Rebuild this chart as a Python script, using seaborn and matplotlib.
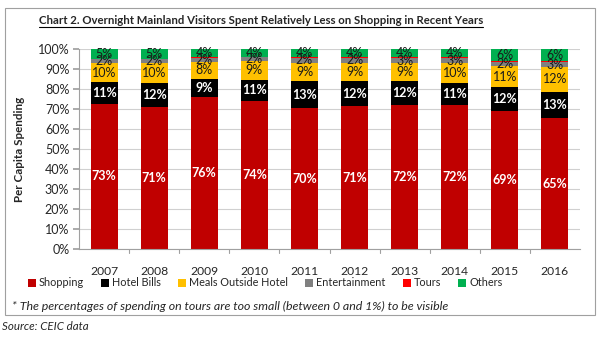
import numpy as np
import pandas as pd
import seaborn as sns
import matplotlib.pyplot as plt
from matplotlib.patches import Rectangle, Patch
from matplotlib.lines import Line2D

years = ["2007", "2008", "2009", "2010", "2011", "2012", "2013", "2014", "2015", "2016"]
shopping = [72.6, 70.8, 76.2, 73.8, 70.4, 71.4, 72.0, 71.8, 69.0, 65.4]
hotel_bills = [10.8, 12.0, 8.9, 10.9, 13.4, 12.4, 11.8, 11.2, 11.8, 13.3]
meals = [9.6, 10.0, 8.3, 9.2, 9.4, 9.4, 9.0, 9.8, 10.8, 12.2]
entertainment = [1.8, 2.0, 2.1, 1.9, 2.4, 2.3, 2.8, 2.8, 2.1, 2.6]
tours = [0.4, 0.4, 0.6, 0.4, 0.6, 0.5, 0.4, 0.4, 0.5, 0.5]
others = [4.8, 4.8, 3.9, 3.8, 3.8, 4.0, 4.0, 4.0, 5.8, 6.0]

series = [
    ("Shopping", shopping, "#C00000", "white", "bold", True),
    ("Hotel Bills", hotel_bills, "#000000", "white", "bold", True),
    ("Meals Outside Hotel", meals, "#FFC000", "#1a1a1a", "normal", True),
    ("Entertainment", entertainment, "#808080", "#1a1a1a", "normal", True),
    ("Tours", tours, "#FF0000", None, None, False),
    ("Others", others, "#00B050", "#1a1a1a", "normal", True),
]

sns.set_theme(style="white")
plt.rcParams["font.family"] = ["Lato", "DejaVu Sans"]

fig = plt.figure(figsize=(6.0, 3.38), dpi=100)
ax = fig.add_axes([79 / 600, 1 - 249 / 338, 501 / 600, 200 / 338])

df = pd.DataFrame({"year": years})
bottom = np.zeros(len(years))
for name, vals, color, tcol, tw, show in series:
    df[name] = vals
    sns.barplot(data=df, x="year", y=name, color=color, bottom=bottom,
                width=0.54, ax=ax, linewidth=0, saturation=1, errorbar=None)
    if show:
        for i, v in enumerate(vals):
            ax.text(i, bottom[i] + v / 2, f"{round(v):.0f}%", ha="center",
                    va="center", color=tcol, fontsize=9, fontweight=tw)
    bottom = bottom + np.array(vals)

ax.set_ylim(0, 100)
ax.set_xlim(-0.5, len(years) - 0.5)
ax.set_yticks(np.arange(0, 101, 10))
ax.set_yticklabels([f"{t}%" for t in range(0, 101, 10)], fontsize=9)
ax.set_xticks(np.arange(len(years)))
ax.set_xticklabels(years, fontsize=8.7)
ax.set_xlabel("")
ax.set_ylabel("Per Capita Spending", fontsize=8.4, fontweight="bold", labelpad=9)
ax.yaxis.grid(True, color="#D0D0D0", linewidth=0.8)
ax.set_axisbelow(True)
for s in ["top", "right"]:
    ax.spines[s].set_visible(False)
for s in ["left", "bottom"]:
    ax.spines[s].set_color("#A0A0A0")
    ax.spines[s].set_linewidth(0.8)
ax.tick_params(axis="y", left=True, length=4, color="#A0A0A0", pad=3)
ax.tick_params(axis="x", bottom=False, pad=6)
# category separators on the x axis
for b in np.arange(0.5, len(years) - 0.5, 1.0):
    ax.plot([b, b], [0, -2.0], color="#A0A0A0", lw=0.8, clip_on=False)

handles = [Patch(facecolor=c, edgecolor="none", label=n) for n, _, c, *_ in series]
fig.legend(handles=handles, loc="center", bbox_to_anchor=(265 / 600, 1 - 283 / 338),
           ncol=6, frameon=False, fontsize=7.8, handlelength=0.75, handleheight=0.75,
           handletextpad=0.25, columnspacing=1.6, borderpad=0, borderaxespad=0)

title = fig.text(261 / 600, 1 - 20 / 338,
                 "Chart 2. Overnight Mainland Visitors Spent Relatively Less on Shopping in Recent Years",
                 ha="center", va="center", fontsize=8.2, fontweight="bold")
fig.canvas.draw()
bb = title.get_window_extent().transformed(fig.transFigure.inverted())
fig.add_artist(Line2D([bb.x0, bb.x1], [bb.y0 - 0.004, bb.y0 - 0.004], color="black", lw=0.8,
                      transform=fig.transFigure))

fig.text(12 / 600, 1 - 306 / 338,
         "* The percentages of spending on tours are too small (between 0 and 1%) to be visible",
         ha="left", va="center", fontsize=8.9, style="italic")
fig.text(2 / 600, 1 - 326 / 338, "Source: CEIC data", ha="left", va="center",
         fontsize=8.3, style="italic")

fig.add_artist(Rectangle((5 / 600, 1 - 315 / 338), 590 / 600, 307 / 338,
                         transform=fig.transFigure, fill=False, edgecolor="#A0A0A0", lw=0.8))

fig.savefig("out.png", dpi=100)
